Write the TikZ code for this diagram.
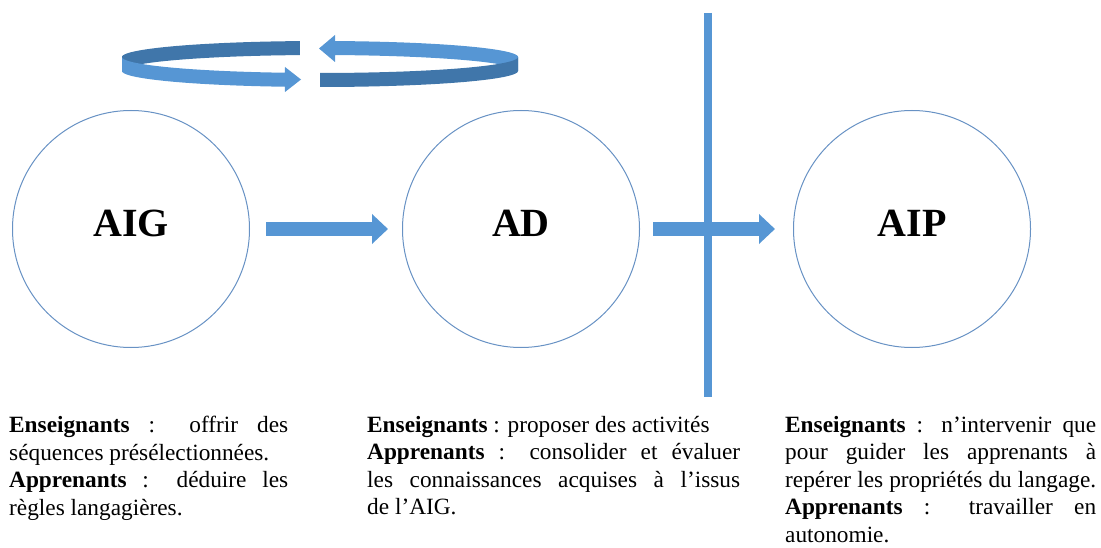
\documentclass[tikz,border=0pt]{standalone}
\usepackage{fontspec}
\setmainfont{Liberation Serif}
\usetikzlibrary{arrows.meta}
\definecolor{ablue}{RGB}{86,150,212}
\definecolor{dblue}{RGB}{64,118,170}
\definecolor{cblue}{RGB}{104,146,196}
\begin{document}
\begin{tikzpicture}[x=1pt,y=-1pt,
  circ/.style={circle, draw=cblue, line width=1pt, minimum size=237pt, inner sep=0pt,
    font=\fontsize{40}{40}\selectfont\bfseries, text depth=11pt},
  bigarrow/.style={draw=ablue, line width=14.5pt, -{Triangle[length=16pt,width=29pt]}},
  vline/.style={draw=ablue, line width=8pt},
  lightband/.style={fill=ablue},
  darkband/.style={fill=dblue},
  col/.style={anchor=north west, inner sep=0pt, align=left, font=\fontsize{23.3}{27.5}\selectfont}]

\useasboundingbox (0,0) rectangle (1101,548);

% rotating ring
\fill[darkband] plot[domain=95.8:180,samples=30] ({320+198*cos(\x)},{57-16*sin(\x)})
  -- plot[domain=180:95.8,samples=30] ({320+198*cos(\x)},{71-16*sin(\x)}) -- cycle;
\fill[lightband] plot[domain=0:85.65,samples=30] ({320+198*cos(\x)},{57-16*sin(\x)})
  -- (335,35) -- (319,48.5) -- (335,62)
  -- plot[domain=85.65:0,samples=30] ({320+198*cos(\x)},{71-16*sin(\x)}) -- cycle;
\fill[lightband] plot[domain=180:259.8,samples=30] ({320+198*cos(\x)},{57-16*sin(\x)})
  -- (285,67) -- (301,79.5) -- (285,92)
  -- plot[domain=259.8:180,samples=30] ({320+198*cos(\x)},{71-16*sin(\x)}) -- cycle;
\fill[darkband] plot[domain=270:360,samples=30] ({320+198*cos(\x)},{57-16*sin(\x)})
  -- plot[domain=360:270,samples=30] ({320+198*cos(\x)},{71-16*sin(\x)}) -- cycle;

% circles
\node[circ] (aig) at (131,229) {AIG};
\node[circ] (ad) at (521,229) {AD};
\node[circ] (aip) at (912,229) {AIP};

% arrows
\draw[bigarrow] ([xshift=16pt]aig.east) -- ([xshift=-14pt]ad.west);
\draw[bigarrow] ([xshift=13pt]ad.east) -- ([xshift=-18pt]aip.west);

% vertical separator
\coordinate (vt) at (708,13);
\coordinate (vb) at (708,397);
\draw[vline] (vt) -- (vb);

% texts
\node[col] (t1) at (9,416) {\makebox[279pt][s]{\textbf{Enseignants} : offrir des}\\
séquences présélectionnées.\\
\makebox[279pt][s]{\textbf{Apprenants} : déduire les}\\
règles langagières.};

\node[col] (t2) at (367,416) {\textbf{Enseignants} : proposer des activités\\
\makebox[373pt][s]{\textbf{Apprenants} : consolider et évaluer}\\
\makebox[373pt][s]{les connaissances acquises à l’issus}\\
de l’AIG.};

\node[col] (t3) at (785,416) {\makebox[311pt][s]{\textbf{Enseignants} : n’intervenir que}\\
\makebox[311pt][s]{pour guider les apprenants à}\\
\makebox[311pt][s]{repérer les propriétés du langage.}\\
\makebox[311pt][s]{\textbf{Apprenants} : travailler en}\\
autonomie.};
\end{tikzpicture}
\end{document}
